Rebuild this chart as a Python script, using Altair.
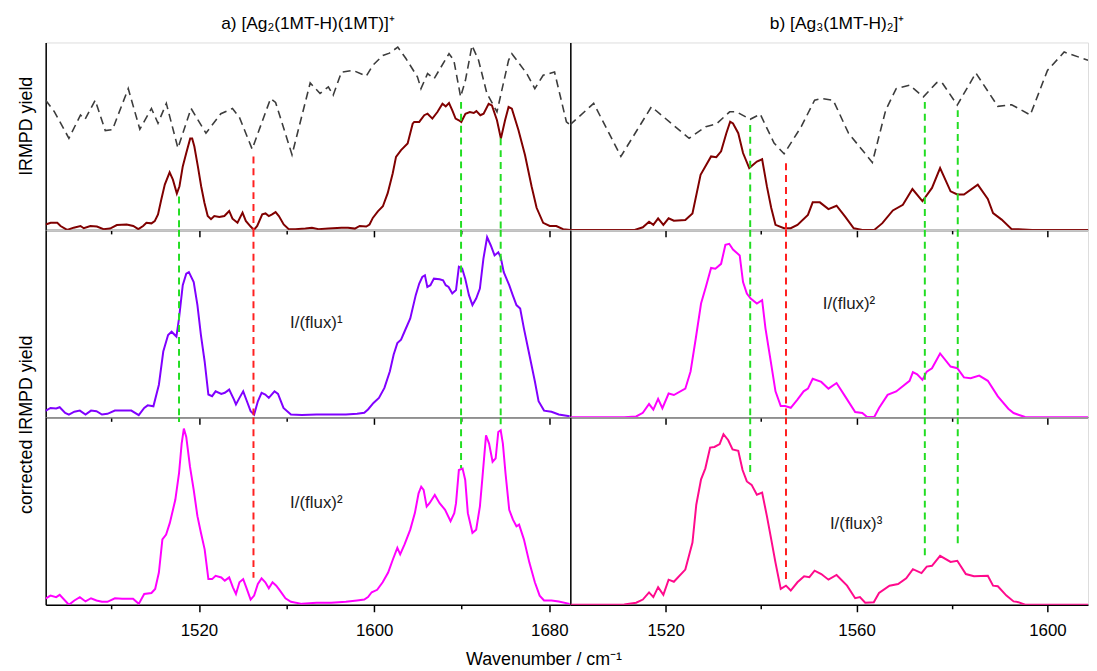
import altair as alt
import pandas as pd

FONT = "Liberation Sans"

# ---------------- data (wavenumber in cm-1, yield in panel-relative units 0..100) ----------------
# a) top panel: laser power (grey dashed) and raw IRMPD yield (dark red)
a_grey_wn = [1450.0, 1454.0, 1460.6, 1465.9, 1468.0, 1472.6, 1477.2, 1480.5, 1487.7, 1493.0, 1498.3,
             1501.3, 1505.1, 1510.4, 1516.4, 1523.2, 1530.0, 1535.3, 1538.5, 1544.3, 1552.7, 1555.0,
             1562.5, 1570.8, 1575.3, 1579.1, 1581.3, 1585.1, 1590.4, 1596.4, 1599.4, 1604.0, 1607.0,
             1610.8, 1614.6, 1619.8, 1621.4, 1624.4, 1627.4, 1634.2, 1636.4, 1639.5, 1641.7, 1644.7,
             1647.7, 1651.5, 1656.1, 1661.4, 1662.9, 1669.7, 1673.4, 1677.2, 1682.4, 1687.8, 1689.6]
a_grey_v = [69.2, 63.0, 48.9, 61.3, 59.0, 69.2, 53.0, 53.5, 75.4, 53.7, 64.8,
            56.9, 67.5, 43.6, 64.8, 51.6, 62.0, 64.8, 60.0, 43.1, 70.1, 68.0,
            40.1, 78.4, 72.8, 76.3, 71.9, 84.2, 85.1, 82.0, 87.8, 93.1, 94.3,
            97.5, 91.3, 81.6, 75.4, 83.4, 80.7, 94.0, 90.5, 71.0, 79.8, 98.4,
            90.5, 72.8, 63.0, 90.5, 94.0, 83.4, 75.4, 82.5, 84.2, 57.7, 56.0]

a_raw_wn = [1450.0, 1452.3, 1455.3, 1456.8, 1459.8, 1462.8, 1465.9, 1467.4, 1470.4, 1473.4, 1476.4,
            1479.4, 1482.5, 1487.0, 1490.0, 1492.3, 1494.5, 1496.0, 1498.3, 1499.8, 1501.3, 1502.8,
            1504.4, 1506.6, 1508.1, 1509.9, 1511.1, 1512.6, 1514.2, 1516.0, 1516.9, 1517.9, 1519.5,
            1521.0, 1522.5, 1524.0, 1525.5, 1527.0, 1529.3, 1531.6, 1533.8, 1535.3, 1537.6, 1539.9,
            1541.4, 1543.6, 1545.1, 1546.6, 1548.9, 1550.4, 1551.9, 1553.4, 1555.0, 1556.5, 1558.7,
            1561.0, 1564.0, 1568.6, 1571.6, 1574.6, 1579.1, 1585.1, 1588.1, 1591.2, 1593.4, 1596.4,
            1597.9, 1599.4, 1601.7, 1604.0, 1606.2, 1608.5, 1610.0, 1612.3, 1615.3, 1617.6, 1618.3,
            1620.6, 1622.9, 1624.4, 1626.6, 1628.9, 1631.2, 1632.7, 1634.2, 1635.7, 1637.2, 1638.7,
            1639.8, 1641.7, 1643.7, 1645.5, 1646.7, 1648.5, 1650.0, 1652.3, 1653.8, 1656.1, 1657.9,
            1659.8, 1661.4, 1662.9, 1665.9, 1668.9, 1671.9, 1674.2, 1677.2, 1680.2, 1683.2, 1686.3,
            1689.6]
a_raw_v = [2.9, 3.8, 3.8, 2.1, 0.0, 1.2, 2.1, 0.9, 2.1, 1.8, 0.4,
           0.7, 2.6, 2.9, 2.1, 0.4, 2.1, 3.8, 3.5, 4.7, 8.3, 16.2,
           24.2, 30.7, 26.8, 19.4, 23.3, 33.9, 41.0, 48.8, 48.8, 44.5, 33.9,
           23.3, 14.5, 7.4, 5.7, 7.4, 6.9, 7.4, 10.1, 6.0, 3.8, 9.2,
           4.8, 1.8, 0.0, 2.1, 8.3, 8.8, 7.4, 8.3, 9.5, 7.4, 2.9,
           0.4, 0.4, 0.7, 1.1, 0.4, 0.7, 1.2, 1.2, 0.7, 2.1, 1.8,
           2.9, 6.4, 9.9, 12.6, 19.6, 30.2, 39.0, 42.6, 46.1, 56.7, 57.6,
           57.6, 61.2, 62.0, 59.4, 62.9, 67.3, 65.9, 67.7, 63.8, 59.4, 58.5,
           57.6, 62.0, 62.9, 62.4, 63.4, 61.2, 62.0, 67.3, 66.4, 58.5, 48.8,
           58.5, 65.6, 64.7, 53.3, 40.0, 23.3, 11.8, 3.8, 2.1, 2.1, 0.4,
           0.0]

# a) middle panel: I/(flux)^1
a_c1_wn = [1449.7, 1452.2, 1454.8, 1456.4, 1458.9, 1460.6, 1463.1, 1465.6, 1468.2, 1470.7, 1473.2,
           1475.7, 1478.2, 1481.6, 1484.9, 1489.1, 1492.5, 1495.0, 1496.6, 1499.2, 1501.7, 1503.7,
           1505.9, 1507.5, 1509.7, 1510.9, 1512.6, 1514.2, 1515.4, 1517.6, 1519.3, 1520.9, 1522.6,
           1524.3, 1526.0, 1527.6, 1530.2, 1531.8, 1533.8, 1536.0, 1536.9, 1538.5, 1540.2, 1541.9,
           1543.6, 1545.2, 1546.9, 1548.6, 1550.3, 1551.9, 1554.5, 1556.1, 1558.6, 1562.0, 1567.0,
           1573.7, 1580.4, 1587.1, 1592.2, 1595.5, 1597.2, 1599.7, 1602.2, 1604.7, 1607.2, 1608.9,
           1610.6, 1612.3, 1613.9, 1616.5, 1619.0, 1620.6, 1622.0, 1623.2, 1624.3, 1625.7, 1627.3,
           1629.9, 1631.5, 1632.7, 1634.0, 1635.7, 1637.4, 1638.7, 1640.2, 1641.6, 1643.3, 1644.9,
           1646.6, 1648.3, 1649.9, 1651.6, 1653.3, 1655.0, 1656.7, 1657.8, 1659.2, 1661.7, 1663.3,
           1665.0, 1666.7, 1668.4, 1670.9, 1673.4, 1675.1, 1677.6, 1681.0, 1684.3, 1689.3]
a_c1_v = [3.3, 5.0, 4.7, 5.4, 2.4, 1.5, 3.0, 3.6, 1.5, 3.6, 3.3,
          1.5, 1.9, 3.6, 3.6, 3.6, 1.2, 5.0, 6.4, 5.9, 17.4, 35.1,
          43.9, 45.7, 43.1, 52.8, 70.5, 76.7, 77.5, 72.2, 59.9, 43.9, 29.8,
          12.2, 11.3, 13.9, 12.5, 13.1, 14.8, 9.5, 6.9, 10.4, 13.9, 8.6,
          3.3, 1.5, 8.6, 13.1, 12.2, 10.4, 13.9, 12.5, 5.0, 1.5, 1.2,
          1.5, 1.5, 1.5, 1.9, 2.4, 4.2, 7.7, 10.4, 15.7, 24.6, 33.4,
          39.6, 41.4, 45.8, 52.8, 65.2, 71.4, 74.9, 75.8, 69.6, 70.5, 74.0,
          73.7, 73.1, 70.5, 69.6, 66.1, 67.9, 80.3, 79.4, 74.0, 65.2, 59.9,
          63.4, 68.7, 84.6, 96.1, 91.7, 86.4, 88.1, 85.5, 77.5, 70.5, 65.2,
          59.9, 58.1, 47.5, 33.4, 19.3, 8.6, 3.6, 3.0, 1.5, 0.6]

# a) bottom panel: I/(flux)^2
a_c2_wn = [1449.7, 1452.2, 1454.8, 1456.4, 1460.6, 1463.1, 1465.6, 1468.2, 1470.7, 1473.2, 1475.7,
           1478.2, 1481.6, 1484.9, 1489.9, 1492.5, 1495.0, 1498.3, 1500.0, 1501.7, 1503.3, 1505.0,
           1506.7, 1509.2, 1510.9, 1512.1, 1513.1, 1514.2, 1515.9, 1517.6, 1519.3, 1520.9, 1522.6,
           1524.3, 1526.0, 1527.6, 1530.2, 1531.8, 1533.8, 1535.5, 1536.9, 1538.5, 1540.2, 1541.6,
           1543.6, 1545.2, 1546.9, 1548.6, 1550.3, 1551.9, 1553.6, 1555.3, 1557.0, 1559.5, 1562.0,
           1567.0, 1573.7, 1580.4, 1587.1, 1592.2, 1595.5, 1597.2, 1598.9, 1601.4, 1603.9, 1606.4,
           1608.6, 1610.6, 1611.9, 1613.9, 1616.5, 1618.6, 1620.3, 1621.5, 1622.6, 1624.0, 1625.3,
           1627.7, 1629.9, 1632.4, 1634.9, 1636.6, 1637.4, 1638.7, 1640.4, 1641.6, 1642.8, 1644.9,
           1646.6, 1648.3, 1649.5, 1651.1, 1652.5, 1654.1, 1655.5, 1656.7, 1657.8, 1658.8, 1660.0,
           1661.7, 1663.4, 1665.0, 1666.2, 1668.4, 1670.9, 1673.4, 1675.6, 1677.6, 1681.0, 1684.3,
           1689.3]
a_c2_v = [3.2, 4.9, 4.1, 5.3, 0.0, 2.3, 4.1, 1.8, 3.5, 2.3, 1.6,
          1.6, 3.5, 3.2, 3.2, 0.5, 5.8, 6.3, 8.4, 17.2, 34.9, 37.5,
          43.7, 56.0, 70.2, 86.0, 94.0, 89.6, 73.7, 61.3, 47.3, 38.4, 29.6,
          13.7, 13.7, 15.5, 14.6, 12.9, 14.6, 9.3, 5.8, 12.0, 13.7, 9.3,
          2.8, 4.9, 11.1, 14.1, 12.0, 8.8, 12.0, 10.2, 7.6, 3.5, 1.6,
          0.5, 1.1, 1.1, 1.6, 2.3, 2.8, 4.1, 6.7, 8.0, 12.0, 17.2,
          24.3, 30.4, 26.9, 32.2, 40.1, 48.9, 59.5, 63.0, 61.3, 52.4, 54.2,
          58.6, 54.2, 50.7, 44.6, 48.9, 54.2, 71.9, 72.7, 66.6, 48.9, 38.4,
          40.1, 52.4, 68.4, 90.4, 86.0, 76.3, 78.1, 92.2, 93.1, 86.0, 70.2,
          50.7, 45.4, 41.9, 42.8, 34.9, 22.5, 12.0, 4.9, 2.3, 2.3, 1.8,
          0.5]

# b) top panel: laser power (grey dashed) and raw IRMPD yield (dark red)
b_grey_wn = [1499.9, 1504.9, 1510.6, 1517.0, 1524.9, 1528.4, 1530.6, 1533.4, 1534.8, 1537.7, 1539.8,
             1542.7, 1544.8, 1548.4, 1551.2, 1552.6, 1555.1, 1558.3, 1563.3, 1566.1, 1568.3, 1571.1,
             1574.0, 1576.8, 1577.9, 1581.1, 1585.0, 1589.6, 1592.5, 1596.4, 1600.0, 1603.5, 1608.5]
b_grey_v = [56.0, 67.5, 39.2, 65.7, 48.9, 55.1, 56.5, 63.0, 63.0, 59.0, 61.8,
            46.3, 40.6, 55.1, 69.2, 70.1, 69.2, 51.6, 36.0, 63.9, 75.4, 77.2,
            71.0, 78.6, 78.6, 66.6, 83.7, 65.9, 66.8, 61.3, 85.1, 94.9, 90.5]

b_raw_wn = [1499.9, 1504.2, 1513.5, 1515.2, 1516.5, 1517.4, 1518.4, 1519.5, 1520.6, 1521.7, 1524.1,
            1525.6, 1527.3, 1529.5, 1530.6, 1531.6, 1532.7, 1533.5, 1534.1, 1535.2, 1536.2, 1537.5,
            1539.1, 1540.2, 1541.2, 1542.1, 1543.0, 1544.8, 1546.2, 1547.6, 1549.8, 1550.8, 1552.3,
            1554.1, 1555.8, 1557.6, 1559.4, 1561.2, 1563.7, 1565.4, 1567.6, 1569.7, 1571.7, 1573.8,
            1575.8, 1577.5, 1579.7, 1581.1, 1582.5, 1585.4, 1587.5, 1588.6, 1590.4, 1592.5, 1593.9,
            1596.8, 1608.5]
b_raw_v = [0.0, 0.0, 0.0, 1.4, 4.4, 2.7, 6.2, 2.7, 6.2, 4.9, 5.3,
           8.8, 29.4, 39.2, 38.8, 41.9, 51.6, 57.7, 56.8, 51.6, 41.0, 33.0,
           36.5, 37.7, 23.2, 11.8, 2.7, 0.9, 0.9, 2.7, 8.0, 14.7, 14.7,
           11.1, 12.9, 7.1, 0.9, 0.0, 0.0, 3.6, 10.4, 13.4, 21.8, 15.3,
           22.4, 33.0, 20.6, 18.9, 18.9, 24.1, 16.5, 9.0, 5.5, 0.4, 0.4,
           0.0, 0.0]

# b) middle panel: I/(flux)^2
b_c2_wn = [1500.0, 1511.3, 1513.8, 1515.2, 1516.5, 1517.4, 1518.4, 1519.3, 1520.6, 1521.7, 1524.1,
           1525.2, 1526.3, 1527.4, 1528.4, 1529.5, 1530.4, 1531.6, 1532.5, 1533.3, 1534.1, 1535.5,
           1536.2, 1537.0, 1537.8, 1539.1, 1540.2, 1540.9, 1541.9, 1543.0, 1544.1, 1545.0, 1546.2,
           1547.6, 1548.9, 1549.8, 1550.8, 1552.6, 1554.1, 1555.8, 1557.6, 1559.7, 1561.2, 1562.2,
           1563.7, 1564.7, 1566.5, 1568.3, 1571.1, 1571.8, 1572.7, 1573.8, 1574.7, 1575.8, 1577.5,
           1579.7, 1581.1, 1582.5, 1583.9, 1585.7, 1587.5, 1589.6, 1591.8, 1592.9, 1593.9, 1595.3,
           1608.5]
b_c2_v = [0.0, 0.0, 0.5, 2.4, 7.1, 4.1, 9.9, 4.9, 12.7, 11.9, 15.3,
          24.5, 42.2, 60.7, 69.6, 79.7, 79.3, 81.9, 92.0, 92.6, 89.5, 86.4,
          72.2, 66.0, 63.4, 60.7, 62.5, 47.5, 31.6, 13.9, 6.0, 6.0, 5.1,
          9.5, 13.9, 15.3, 20.6, 18.9, 15.3, 18.3, 11.2, 2.8, 2.3, 0.2,
          0.2, 5.0, 12.0, 13.8, 19.5, 24.1, 23.0, 20.0, 24.4, 26.2, 34.1,
          27.1, 26.2, 21.3, 20.9, 22.3, 19.5, 11.2, 4.6, 2.3, 1.4, 0.2,
          0.0]

# b) bottom panel: I/(flux)^3
b_c3_wn = [1500.0, 1511.3, 1513.8, 1515.2, 1516.5, 1517.4, 1518.4, 1519.5, 1520.6, 1521.7, 1524.1,
           1525.6, 1526.4, 1527.4, 1528.3, 1529.3, 1530.2, 1531.3, 1532.1, 1533.1, 1534.0, 1535.2,
           1536.1, 1537.0, 1538.0, 1539.1, 1540.2, 1541.2, 1542.1, 1543.0, 1544.1, 1545.2, 1546.2,
           1547.6, 1549.0, 1550.1, 1551.2, 1552.6, 1554.1, 1555.8, 1558.0, 1559.7, 1560.7, 1561.8,
           1563.6, 1564.7, 1566.9, 1568.7, 1570.4, 1571.8, 1573.6, 1574.7, 1575.8, 1577.5, 1579.7,
           1581.1, 1582.9, 1584.6, 1587.5, 1588.6, 1589.6, 1591.4, 1592.9, 1593.9, 1595.3, 1608.5]
b_c3_v = [0.0, 0.2, 1.1, 2.8, 6.6, 4.1, 9.4, 5.3, 13.4, 12.3, 18.8,
          33.2, 53.4, 66.9, 72.8, 83.9, 84.2, 85.7, 91.0, 87.8, 82.9, 82.2,
          71.9, 65.8, 64.0, 58.7, 59.9, 47.3, 35.0, 22.5, 8.5, 10.2, 7.6,
          12.0, 15.2, 14.7, 18.2, 16.4, 13.4, 15.9, 10.2, 3.5, 4.1, 1.1,
          1.4, 6.3, 10.2, 11.1, 14.1, 19.0, 16.9, 20.4, 20.8, 26.1, 22.9,
          23.5, 16.4, 15.2, 15.5, 10.2, 9.9, 4.9, 1.8, 1.4, 0.0, 0.0]

# dashed marker lines: position, colour, start level in top panel, end level in bottom panel
a_mark_wn = [1510.9, 1544.9, 1639.7, 1657.8]
a_mark_col = ["#22DD22", "#FF2020", "#22DD22", "#22DD22"]
a_mark_top = [17.8, 39.2, 68.3, 48.9]
a_mark_bot = [97.5, 14.4, 72.8, 95.5]

b_mark_wn = [1537.7, 1545.2, 1574.3, 1581.2]
b_mark_col = ["#22DD22", "#FF2020", "#22DD22", "#22DD22"]
b_mark_top = [56.0, 35.6, 68.3, 63.9]
b_mark_bot = [69.3, 12.0, 25.2, 30.5]

# panel annotations
a_note_wn = [None, 1573.6, 1573.6]
a_note_v = [None, 50.1, 54.3]
a_note_t = [None, "I/(flux)¹", "I/(flux)²"]
b_note_wn = [None, 1558.4, 1559.9]
b_note_v = [None, 60.7, 42.9]
b_note_t = [None, "I/(flux)²", "I/(flux)³"]

titles = ["a) [Ag₂(1MT-H)(1MT)]⁺", "b) [Ag₃(1MT-H)₂]⁺"]

# ---------------- chart ----------------
XA = alt.Scale(domain=[1450, 1689.6], nice=False, zero=False)
XB = alt.Scale(domain=[1500, 1608.5], nice=False, zero=False)
YS = alt.Scale(domain=[0, 100], nice=False, zero=False)
W_A, W_B, H = 529, 522, 189


def xaxis(ticks, mod, labels, title=None, title_x=None):
    kw = dict(values=ticks, grid=False, domainColor="black", domainWidth=1.5,
              tickColor="black", tickWidth=1.5,
              tickSize={"condition": {"test": f"datum.value % {mod} === 0", "value": 7}, "value": 4},
              labels=labels)
    if labels:
        kw.update(format="d", labelExpr=f"datum.value % {mod} === 0 ? datum.label : ''",
                  labelFont=FONT, labelFontSize=17, labelColor="black", labelPadding=11)
    if title:
        kw.update(title=title, titleFont=FONT, titleFontSize=18, titleFontWeight="normal",
                  titleColor="black", titleX=title_x, titlePadding=12)
    else:
        kw["title"] = None
    return alt.Axis(**kw)


def yaxis(title=None, title_y=None):
    kw = dict(labels=False, ticks=False, grid=False, domainColor="black", domainWidth=1.5)
    if title:
        kw.update(title=title, titleFont=FONT, titleFontSize=18, titleFontWeight="normal",
                  titleColor="black", titlePadding=10, titleY=title_y)
    else:
        kw["title"] = None
    return alt.Axis(**kw)


def vseg(wns, cols, tops, bots, row):
    rows = []
    for w, c, t, b in zip(wns, cols, tops, bots):
        if row == 0:
            rows.append({"wn": w, "y1": t, "y2": 0, "c": c})
        elif row == 1:
            rows.append({"wn": w, "y1": 100, "y2": 0, "c": c})
        else:
            rows.append({"wn": w, "y1": 100, "y2": b, "c": c})
    return pd.DataFrame(rows)


def panel(series, xs, xa, ya, marks, width, note=None, title=None, title_dx=0):
    layers = []
    for wn, v, color, dash, sw in series:
        m = dict(color=color, strokeWidth=sw, clip=True)
        if dash:
            m["strokeDash"] = dash
        layers.append(alt.Chart(pd.DataFrame({"wn": wn, "v": v})).mark_line(**m).encode(
            x=alt.X("wn:Q", scale=xs, axis=xa), y=alt.Y("v:Q", scale=YS, axis=ya)))
    layers.append(alt.Chart(marks).mark_rule(strokeDash=[7, 5], strokeWidth=2, clip=True).encode(
        x=alt.X("wn:Q", scale=xs, axis=xa), y=alt.Y("y1:Q", scale=YS, axis=ya), y2="y2:Q",
        color=alt.Color("c:N", scale=None)))
    if note is not None:
        layers.append(alt.Chart(pd.DataFrame({"wn": [note[0]], "v": [note[1]], "t": [note[2]]}))
                      .mark_text(font=FONT, fontSize=17, color="#1a1a1a")
                      .encode(x=alt.X("wn:Q", scale=xs, axis=xa), y=alt.Y("v:Q", scale=YS, axis=ya),
                              text="t:N"))
    ch = alt.layer(*layers).properties(width=width, height=H)
    if title:
        ch = ch.properties(title=alt.TitleParams(text=title, font=FONT, fontSize=17.5,
                                                 fontWeight="normal", color="black", anchor="middle",
                                                 frame="group", baseline="alphabetic", offset=-4,
                                                 dx=title_dx))
    return ch


ticks_a = [1480, 1520, 1560, 1600, 1640, 1680]
ticks_b = [1520, 1540, 1560, 1580, 1600]

tl = panel([(a_grey_wn, a_grey_v, "#3c3c3c", [8, 5], 1.6), (a_raw_wn, a_raw_v, "#800000", None, 2)],
           XA, xaxis(ticks_a, 80, False), yaxis("IRMPD yield", 84),
           vseg(a_mark_wn, a_mark_col, a_mark_top, a_mark_bot, 0), W_A, title=titles[0])
tr = panel([(b_grey_wn, b_grey_v, "#3c3c3c", [8, 5], 1.6), (b_raw_wn, b_raw_v, "#800000", None, 2)],
           XB, xaxis(ticks_b, 40, False), yaxis(),
           vseg(b_mark_wn, b_mark_col, b_mark_top, b_mark_bot, 0), W_B, title=titles[1], title_dx=8)
ml = panel([(a_c1_wn, a_c1_v, "#8000FF", None, 2)],
           XA, xaxis(ticks_a, 80, False), yaxis(),
           vseg(a_mark_wn, a_mark_col, a_mark_top, a_mark_bot, 1), W_A,
           note=(a_note_wn[1], a_note_v[1], a_note_t[1]))
mr = panel([(b_c2_wn, b_c2_v, "#FF00FF", None, 2)],
           XB, xaxis(ticks_b, 40, False), yaxis(),
           vseg(b_mark_wn, b_mark_col, b_mark_top, b_mark_bot, 1), W_B,
           note=(b_note_wn[1], b_note_v[1], b_note_t[1]))
bl = panel([(a_c2_wn, a_c2_v, "#FF00FF", None, 2)],
           XA, xaxis(ticks_a, 80, True, "Wavenumber / cm⁻¹", 502), yaxis("corrected IRMPD yield", 7),
           vseg(a_mark_wn, a_mark_col, a_mark_top, a_mark_bot, 2), W_A,
           note=(a_note_wn[2], a_note_v[2], a_note_t[2]))
br = panel([(b_c3_wn, b_c3_v, "#FF0A8C", None, 2)],
           XB, xaxis(ticks_b, 40, True), yaxis(),
           vseg(b_mark_wn, b_mark_col, b_mark_top, b_mark_bot, 2), W_B,
           note=(b_note_wn[2], b_note_v[2], b_note_t[2]))

chart = alt.concat(tl, tr, ml, mr, bl, br, columns=2, spacing=0, bounds="flush").properties(
    padding={"left": 9, "top": 4, "right": 0, "bottom": 0}
).configure_view(strokeWidth=0).configure(background="white")

chart.save("out.html", embed_options={"renderer": "svg", "actions": False})
